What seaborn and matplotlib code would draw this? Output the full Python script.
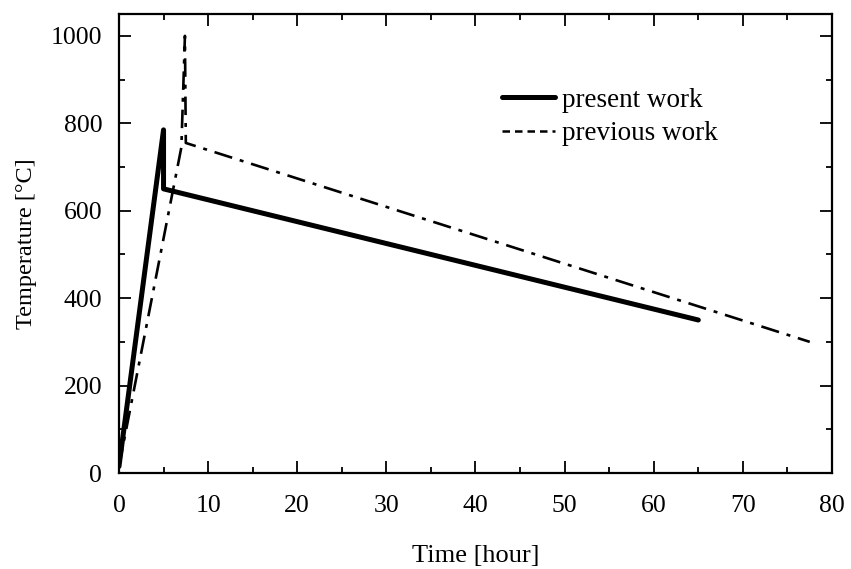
import matplotlib
matplotlib.use("Agg")
import matplotlib.pyplot as plt
from matplotlib.lines import Line2D
from matplotlib.ticker import MultipleLocator
import seaborn as sns
import pandas as pd

# Data
present_time = [0.0, 5.0, 5.0, 65.0]
present_temp = [15, 785, 650, 350]
previous_time = [0.0, 7.0, 7.4, 7.5, 77.5]
previous_temp = [15, 745, 1000, 755, 300]
series_labels = ["present work", "previous work"]
x_ticks = [0, 10, 20, 30, 40, 50, 60, 70, 80]
y_ticks = [0, 200, 400, 600, 800, 1000]

sns.set_theme(style="ticks")
plt.rcParams['font.family'] = ['Liberation Serif', 'DejaVu Serif']
plt.rcParams['text.color'] = 'black'
plt.rcParams['axes.labelcolor'] = 'black'

fig = plt.figure(figsize=(8.51, 5.69), dpi=100)
ax = fig.add_axes([0.1398, 0.1687, 0.9777 - 0.1398, 0.9754 - 0.1687])

df_present = pd.DataFrame({"t": present_time, "T": present_temp})
df_previous = pd.DataFrame({"t": previous_time, "T": previous_temp})

sns.lineplot(data=df_present, x="t", y="T", sort=False, estimator=None,
             color="black", linewidth=3.6, ax=ax)
sns.lineplot(data=df_previous, x="t", y="T", sort=False, estimator=None,
             color="black", linewidth=1.9, ax=ax, dashes=False)
ax.lines[1].set_dashes([7, 3, 1.5, 3])

ax.set_xlim(0, 80)
ax.set_ylim(0, 1050)
ax.set_xticks(x_ticks)
ax.set_yticks(y_ticks)
ax.xaxis.set_minor_locator(MultipleLocator(5))
ax.yaxis.set_minor_locator(MultipleLocator(100))
ax.tick_params(which="both", direction="in", top=True, right=True,
               width=1.3, labelsize=18.5, colors="black")
ax.tick_params(axis="x", which="both", pad=16)
ax.tick_params(axis="y", which="both", pad=12)
ax.tick_params(which="major", length=8.5)
ax.tick_params(which="minor", length=4.3)
for s in ax.spines.values():
    s.set_linewidth(1.6)
    s.set_color("black")

ax.set_xlabel("Time [hour]", fontsize=19)
ax.set_ylabel("Temperature [\u00b0C]", fontsize=17.5)
ax.xaxis.set_label_coords(0.5, -0.18)
ax.xaxis.label.set_va("center")
ax.yaxis.set_label_coords(-0.13, 0.5)
ax.yaxis.label.set_va("center")

handles = [Line2D([], [], color="black", linewidth=3.6),
           Line2D([], [], color="black", linewidth=1.8, dashes=[3, 2])]
ax.legend(handles, series_labels, loc="upper left",
          bbox_to_anchor=(0.503, 0.892), frameon=False, fontsize=19.5,
          handlelength=1.95, handletextpad=0.25, labelspacing=0.3)

fig.savefig("out.png", dpi=100)
